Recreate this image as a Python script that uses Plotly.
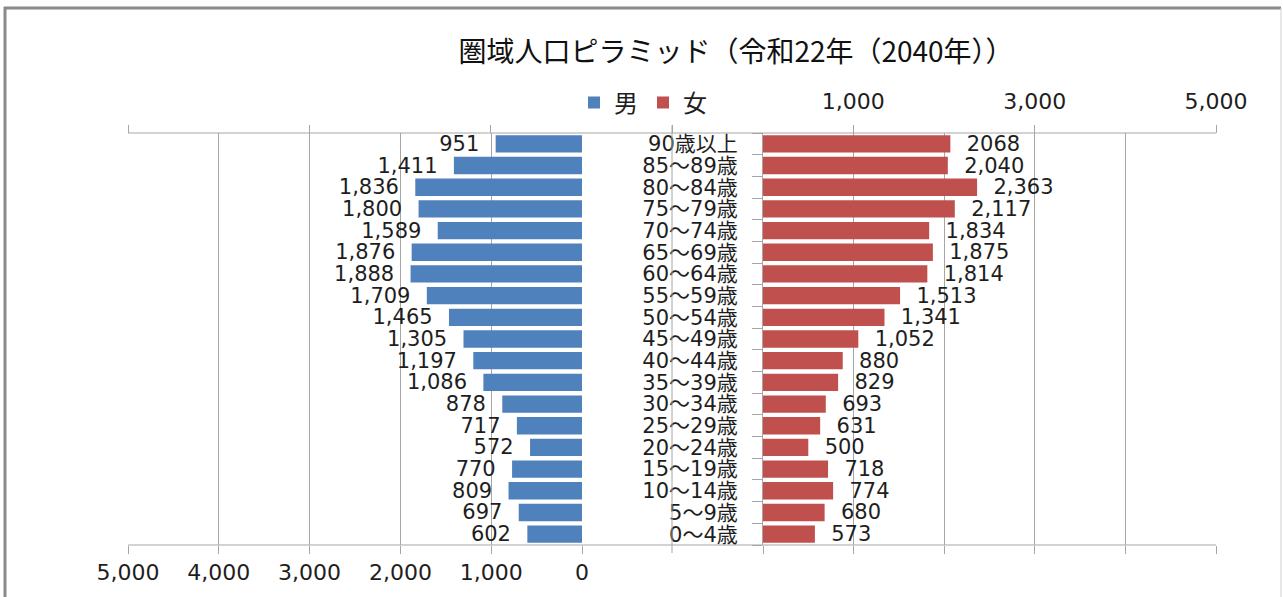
import plotly.graph_objects as go

ages = ["90歳以上", "85～89歳", "80～84歳", "75～79歳", "70～74歳", "65～69歳",
        "60～64歳", "55～59歳", "50～54歳", "45～49歳", "40～44歳", "35～39歳",
        "30～34歳", "25～29歳", "20～24歳", "15～19歳", "10～14歳", "5～9歳", "0～4歳"]
male = [951, 1411, 1836, 1800, 1589, 1876, 1888, 1709, 1465, 1305, 1197, 1086,
        878, 717, 572, 770, 809, 697, 602]
female = [2068, 2040, 2363, 2117, 1834, 1875, 1814, 1513, 1341, 1052, 880, 829,
          693, 631, 500, 718, 774, 680, 573]
male_labels = ["951", "1,411", "1,836", "1,800", "1,589", "1,876", "1,888", "1,709",
               "1,465", "1,305", "1,197", "1,086", "878", "717", "572", "770",
               "809", "697", "602"]
female_labels = ["2068", "2,040", "2,363", "2,117", "1,834", "1,875", "1,814", "1,513",
                 "1,341", "1,052", "880", "829", "693", "631", "500", "718",
                 "774", "680", "573"]
bottom_ticks = [0, 1000, 2000, 3000, 4000, 5000]
bottom_ticktext = ["0", "1,000", "2,000", "3,000", "4,000", "5,000"]
top_ticks = [-7000, -5000, -3000, -1000, 1000, 3000, 5000]
top_ticktext = ["", "", "", "", "1,000", "3,000", "5,000"]

W, H = 1283, 597
BLUE = "#4F81BD"
RED = "#C0504D"
GRID = "#A6A6A6"
TXT = "#1e1e1e"
NUMFONT = "DejaVu Sans, Noto Sans CJK JP"
JPFONT = "Noto Sans CJK JP"
NB = "\u00a0"

def px(x):
    return x / W

def py(y):
    return 1 - y / H

fig = go.Figure()
fig.add_trace(go.Bar(
    y=ages, x=male, orientation="h", name="男", marker=dict(color=BLUE, line=dict(width=0)),
    text=[s + NB * 2 for s in male_labels], textposition="outside", constraintext="none",
    cliponaxis=False, textfont=dict(family=NUMFONT, size=21, color=TXT),
    xaxis="x", yaxis="y", hoverinfo="skip"))
fig.add_trace(go.Bar(
    y=ages, x=female, orientation="h", name="女", marker=dict(color=RED, line=dict(width=0)),
    text=[NB * 2 + s for s in female_labels], textposition="outside", constraintext="none",
    cliponaxis=False, textfont=dict(family=NUMFONT, size=21, color=TXT),
    xaxis="x2", yaxis="y2", hoverinfo="skip"))
# empty trace so that the top scale axis is drawn
fig.add_trace(go.Scatter(x=[], y=[], xaxis="x3", yaxis="y", showlegend=False,
                         hoverinfo="skip", mode="markers"))

ydom = [py(545), py(133)]
fig.update_layout(
    width=W, height=H, margin=dict(l=0, r=0, t=0, b=0, autoexpand=False),
    paper_bgcolor="white", plot_bgcolor="rgba(0,0,0,0)",
    bargap=0.2,
    font=dict(family=NUMFONT, color=TXT),
    title=dict(text="圏域人口ピラミッド（令和22年（2040年））", x=px(736), y=py(52),
               xanchor="center", yanchor="middle",
               font=dict(family=JPFONT, size=28, color="#111")),
    legend=dict(orientation="h", x=px(574), y=py(103), xanchor="left", yanchor="middle",
                font=dict(family=JPFONT, size=24, color=TXT), bgcolor="rgba(0,0,0,0)",
                itemwidth=30, traceorder="normal"),
    xaxis=dict(domain=[px(128), px(582)], range=[5000, 0], anchor="y", automargin=False,
               tickmode="array", tickvals=bottom_ticks, ticktext=bottom_ticktext,
               ticks="outside", ticklen=8, tickcolor=GRID, tickwidth=1,
               showgrid=True, gridcolor=GRID, gridwidth=1, zeroline=False, showline=False,
               tickfont=dict(family=NUMFONT, size=22, color=TXT), fixedrange=True),
    xaxis2=dict(domain=[px(763), px(1216)], range=[0, 5000], anchor="y2", automargin=False,
                tickmode="array", tickvals=bottom_ticks, showticklabels=False,
                ticks="outside", ticklen=8, tickcolor=GRID, tickwidth=1,
                showgrid=True, gridcolor=GRID, gridwidth=1, zeroline=False, showline=False,
                fixedrange=True),
    xaxis3=dict(domain=[px(128), px(1216)], range=[-7000, 5000], anchor="free",
                position=py(133), side="top", automargin=False,
                tickmode="array", tickvals=top_ticks, ticktext=top_ticktext,
                ticks="outside", ticklen=8, tickcolor=GRID, tickwidth=1,
                ticklabelstandoff=7,
                showgrid=False, zeroline=False, showline=False,
                tickfont=dict(family=NUMFONT, size=22, color=TXT), fixedrange=True),
    yaxis=dict(domain=ydom, anchor="x", type="category", autorange="reversed",
               automargin=False,
               showticklabels=False, ticks="", showgrid=False, zeroline=False,
               showline=False, fixedrange=True),
    yaxis2=dict(domain=ydom, anchor="x2", type="category", autorange="reversed",
                automargin=False, matches="y",
                tickmode="array", tickvals=ages, ticktext=ages,
                showticklabels=True, ticks="outside", tickson="boundaries",
                ticklen=10, tickcolor=GRID, showline=True, linecolor=GRID, linewidth=1,
                showgrid=False, zeroline=False, ticklabelstandoff=20,
                tickfont=dict(family=NUMFONT, size=21, color=TXT), fixedrange=True),
)

line = dict(color=GRID, width=1)
fig.add_shape(type="line", xref="paper", yref="paper", x0=px(128), x1=px(1216),
              y0=py(133), y1=py(133), line=line, layer="below")
fig.add_shape(type="line", xref="paper", yref="paper", x0=px(128), x1=px(1216),
              y0=py(545), y1=py(545), line=line, layer="below")
fig.add_shape(type="line", xref="paper", yref="paper", x0=px(672), x1=px(672),
              y0=py(125), y1=py(553), line=line, layer="above")
# outer frame
fig.add_shape(type="line", xref="paper", yref="paper", x0=px(5), x1=px(5),
              y0=py(7), y1=0, line=dict(color="#8a8a8a", width=3))
fig.add_shape(type="line", xref="paper", yref="paper", x0=px(4), x1=px(1281),
              y0=py(8), y1=py(8), line=dict(color="#8a8a8a", width=3))
fig.add_shape(type="line", xref="paper", yref="paper", x0=px(1281), x1=px(1281),
              y0=py(8), y1=0, line=dict(color="#d0d0d0", width=1))

fig.write_html("out.html", config={"displayModeBar": False},
               post_script="document.body.style.margin='0px';document.body.style.overflow='hidden';")
